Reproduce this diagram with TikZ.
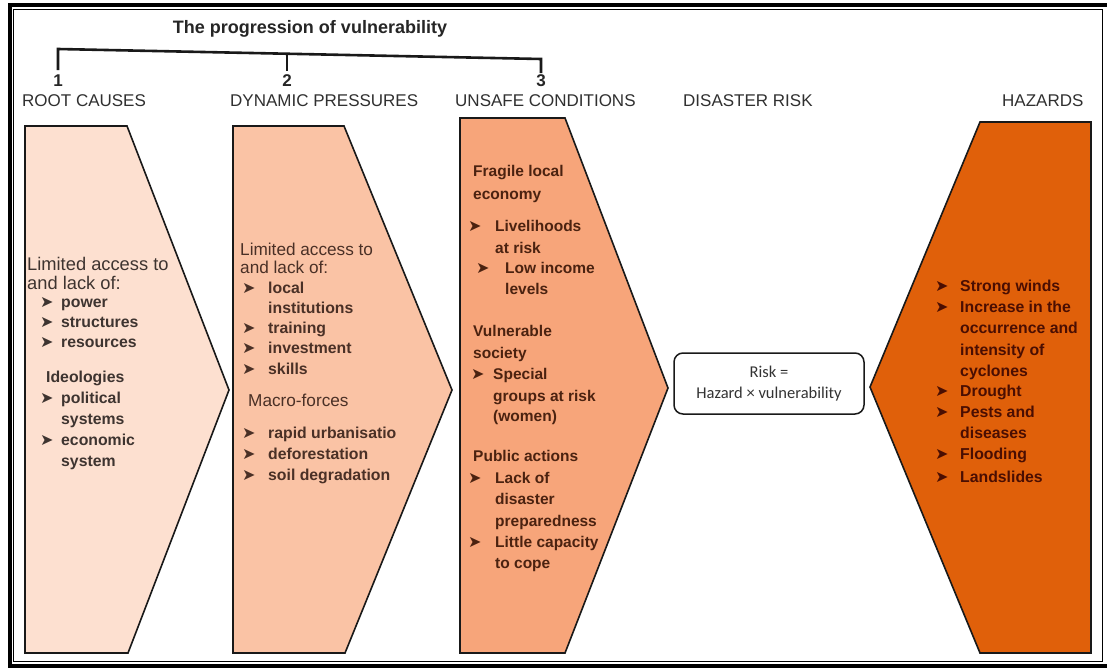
\documentclass[tikz,border=0pt]{standalone}
\usepackage{fontspec}
\setmainfont{Liberation Sans}
\newfontfamily\dvf{DejaVu Sans}
\newfontfamily\carl{Carlito}
\definecolor{sA}{HTML}{FDE0D0}
\definecolor{sB}{HTML}{FAC3A5}
\definecolor{sC}{HTML}{F7A57A}
\definecolor{sH}{HTML}{E0600A}
\definecolor{tA}{HTML}{3E3430}
\definecolor{tB}{HTML}{4A3026}
\definecolor{tC}{HTML}{4B2210}
\definecolor{tH}{HTML}{4A0E02}
\definecolor{hdc}{HTML}{303030}
\newcommand\bul[1]{\makebox[#1pt][l]{\dvf\fontsize{16}{16}\selectfont ➤}}
\tikzset{
  lbl/.style={anchor=base west, inner sep=0pt},
  hdr/.style={lbl, font=\fontsize{17}{20}\selectfont, text=hdc},
  num/.style={anchor=base, inner sep=0pt, font=\bfseries\fontsize{17}{20}\selectfont, text=black!85},
  ra/.style={lbl, font=\fontsize{18.3}{20}\selectfont, text=tA},
  ba/.style={lbl, font=\bfseries\fontsize{15.8}{20}\selectfont, text=tA},
  rb/.style={lbl, font=\fontsize{17.2}{20}\selectfont, text=tB},
  bb/.style={lbl, font=\bfseries\fontsize{15.8}{20}\selectfont, text=tB},
  bc/.style={lbl, font=\bfseries\fontsize{15.5}{20}\selectfont, text=tC},
  bh/.style={lbl, font=\bfseries\fontsize{15.8}{20}\selectfont, text=tH},
  shp/.style={draw=black!90, line width=1.6pt, line join=miter},
  brk/.style={draw=black!90, line width=2.6pt},
}
\begin{document}
\begin{tikzpicture}[x=1pt,y=-1pt]
\useasboundingbox (0,0) rectangle (1107,669);
\fill[white] (0,0) rectangle (1107,669);
% frame
\draw[line width=4pt] (1112,5.3) -- (10,5.3) -- (10,666.3) -- (1112,666.3);
\draw[line width=1pt] (13.5,9.5) rectangle (1102.5,661.5);
% title and bracket
\node[anchor=base, inner sep=0pt, font=\bfseries\fontsize{18}{20}\selectfont, text=black!85] (title) at (310,33.5) {The progression of vulnerability};
\node[num] (n1) at (58,86) {1};
\node[num] (n2) at (287,86) {2};
\node[num] (n3) at (541,86) {3};
\coordinate (bl) at (58,49);
\coordinate (bm) at (287,53.7);
\coordinate (br) at (541,59);
\coordinate (bl2) at (58,70);
\coordinate (bm2) at (287,71);
\coordinate (br2) at (541,73);
\draw[brk] (bl2) -- (bl) -- (br) -- (br2);
\draw[brk] (bm) -- (bm2);
% headers
\node[hdr] (h-root) at (22,106) {ROOT CAUSES};
\node[hdr] (h-dyn) at (230,106) {DYNAMIC PRESSURES};
\node[hdr] (h-uns) at (455,106) {UNSAFE CONDITIONS};
\node[hdr] (h-dis) at (683,106) {DISASTER RISK};
\node[hdr] (h-haz) at (1002,106) {HAZARDS};
% shapes
\draw[shp, fill=sA] (25,126) -- (127,126) -- (229,390) -- (128,653) -- (25,653) -- cycle;
\draw[shp, fill=sB] (233,126) -- (344,126) -- (452,390) -- (345,653) -- (233,653) -- cycle;
\draw[shp, fill=sC] (460,118) -- (565,118) -- (668,388) -- (565,653) -- (460,653) -- cycle;
\draw[shp, fill=sH] (980,122) -- (1091,122) -- (1091,653) -- (980,653) -- (870,387) -- cycle;
% shape 1 text
\node[ra] (a1) at (27,270) {Limited access to};
\node[ra] (a2) at (27,289) {and lack of:};
\node[ba] (a3) at (40,307.5) {\bul{21}power};
\node[ba] (a4) at (40,327.5) {\bul{21}structures};
\node[ba] (a5) at (40,347.5) {\bul{21}resources};
\node[ba] (a6) at (46,382.5) {Ideologies};
\node[ba] (a7) at (40,403.5) {\bul{21}political};
\node[ba] (a8) at (61,424.5) {systems};
\node[ba] (a9) at (40,445.5) {\bul{21}economic};
\node[ba] (a10) at (61,466.5) {system};
% shape 2 text
\node[rb] (b1) at (240,255) {Limited access to};
\node[rb] (b2) at (240,273) {and lack of:};
\node[bb] (b3) at (242,293.5) {\bul{26}local};
\node[bb] (b4) at (268,313.5) {institutions};
\node[bb] (b5) at (242,333.5) {\bul{26}training};
\node[bb] (b6) at (242,353.5) {\bul{26}investment};
\node[bb] (b7) at (242,374.5) {\bul{26}skills};
\node[rb] (b8) at (248,406) {Macro-forces};
\begin{scope}
\clip (235,420) rectangle (396,446);
\node[bb] (b9) at (242,438.5) {\bul{26}rapid urbanisation};
\end{scope}
\node[bb] (b10) at (242,459.5) {\bul{26}deforestation};
\node[bb] (b11) at (242,480.5) {\bul{26}soil degradation};
% shape 3 text
\node[bc] (c1) at (473,176.5) {Fragile local};
\node[bc] (c2) at (473,199.5) {economy};
\node[bc] (c3) at (468,231.5) {\bul{27}Livelihoods};
\node[bc] (c4) at (495,253.5) {at risk};
\node[bc] (c5) at (476,273.5) {\bul{29}Low income};
\node[bc] (c6) at (505,294.5) {levels};
\node[bc] (c7) at (473,336.5) {Vulnerable};
\node[bc] (c8) at (473,358.5) {society};
\node[bc] (c9) at (471,379.5) {\bul{22}Special};
\node[bc] (c10) at (493,401.5) {groups at risk};
\node[bc] (c11) at (493,421.5) {(women)};
\node[bc] (c12) at (473,461.5) {Public actions};
\node[bc] (c13) at (468,483.5) {\bul{27}Lack of};
\node[bc] (c14) at (495,504.5) {disaster};
\node[bc] (c15) at (495,526.5) {preparedness};
\node[bc] (c16) at (468,547.5) {\bul{27}Little capacity};
\node[bc] (c17) at (495,568.5) {to cope};
% risk box
\node[draw=black!90, line width=1.5pt, rounded corners=9pt, minimum width=190pt, minimum height=61pt, align=center, font=\carl\fontsize{16.5}{21}\selectfont, text=black!80] (risk) at (769,383.5) {Risk =\\Hazard × vulnerability};
% hazards text
\node[bh] (z1) at (935,291.5) {\bul{25}Strong winds};
\node[bh] (z2) at (935,312.5) {\bul{25}Increase in the};
\node[bh] (z3) at (960,333.5) {occurrence and};
\node[bh] (z4) at (960,355.5) {intensity of};
\node[bh] (z5) at (960,376.5) {cyclones};
\node[bh] (z6) at (935,396.5) {\bul{25}Drought};
\node[bh] (z7) at (935,417.5) {\bul{25}Pests and};
\node[bh] (z8) at (960,438.5) {diseases};
\node[bh] (z9) at (935,459.5) {\bul{25}Flooding};
\node[bh] (z10) at (935,482.5) {\bul{25}Landslides};
\end{tikzpicture}
\end{document}
